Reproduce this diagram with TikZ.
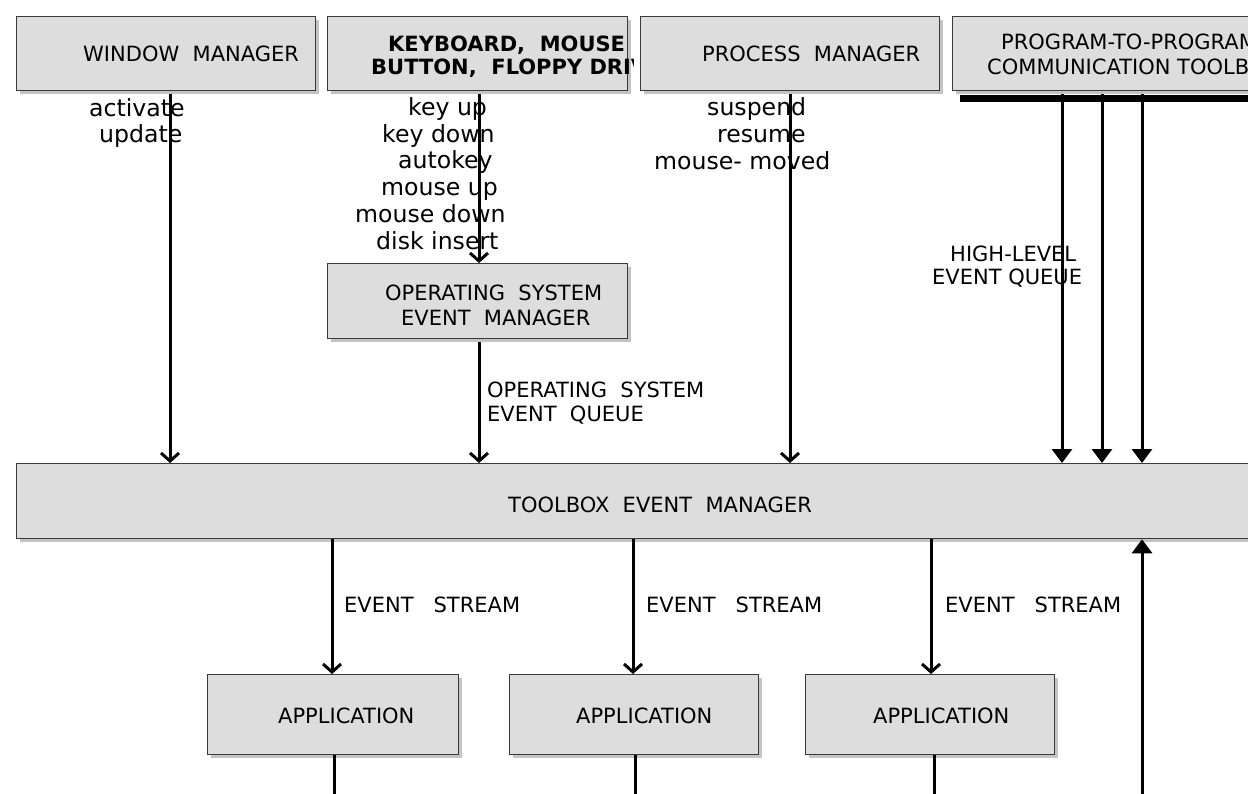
\documentclass[tikz,border=0pt]{standalone}
\usepackage{fontspec}
\setmainfont{DejaVu Sans}
\usetikzlibrary{arrows.meta,shadows}
\definecolor{boxfill}{HTML}{DDDDDD}
\definecolor{boxline}{HTML}{3A3A3A}
\definecolor{shadowgray}{HTML}{C4C4C4}
\tikzset{
  box/.style={draw=boxline, line width=1.3pt, fill=boxfill, rectangle, anchor=north west,
    inner sep=0pt, drop shadow={shadow xshift=3pt, shadow yshift=-3pt, fill=shadowgray, opacity=1}},
  lbl/.style={anchor=base west, inner sep=0pt, font=\fontsize{21}{25}\selectfont},
  blbl/.style={lbl, font=\fontsize{21}{25}\selectfont\bfseries},
  slbl/.style={lbl, font=\fontsize{23.6}{27}\selectfont},
  flow/.style={line width=3pt, -{Straight Barb[length=8pt,width=18pt]}},
  hflow/.style={line width=3pt, -{Triangle[length=14pt,width=20pt]}},
  plain/.style={line width=3pt},
}
\begin{document}
\begin{tikzpicture}[x=1pt,y=-1pt]
\useasboundingbox (0,0) rectangle (1248,794);
\clip (0,0) rectangle (1248,794);

% boxes
\node[box, minimum width=299pt, minimum height=74pt] (wm) at (16,16) {};
\node[box, minimum width=300pt, minimum height=74pt] (kb) at (327,16) {};
\node[box, minimum width=299pt, minimum height=74pt] (pm) at (640,16) {};
\node[box, minimum width=340pt, minimum height=74pt] (ptp) at (952,16) {};
\node[box, minimum width=300pt, minimum height=75pt] (osem) at (327,263) {};
\node[box, minimum width=1290pt, minimum height=75pt] (tb) at (16,463) {};
\node[box, minimum width=251pt, minimum height=80pt] (app1) at (207,674) {};
\node[box, minimum width=249pt, minimum height=80pt] (app2) at (509,674) {};
\node[box, minimum width=249pt, minimum height=80pt] (app3) at (805,674) {};

% box texts
\node[lbl] (twm) at (83,62) {WINDOW\ \ MANAGER};
\begin{scope}
  \clip (320,0) rectangle (633,100);
  \node[blbl] (tkb1) at (388,52) {KEYBOARD,\ \ MOUSE};
  \node[blbl] (tkb2) at (371,75) {BUTTON,\ \ FLOPPY DRIVE};
\end{scope}
\node[lbl] (tpm) at (702,62) {PROCESS\ \ MANAGER};
\node[lbl] (tptp1) at (1001,50) {PROGRAM-TO-PROGRAM};
\node[lbl] (tptp2) at (987,75) {COMMUNICATION TOOLBOX};
\node[lbl] (tosem1) at (385,301) {OPERATING\ \ SYSTEM};
\node[lbl] (tosem2) at (401,326) {EVENT\ \ MANAGER};
\node[lbl] (ttb) at (508,512) {TOOLBOX\ \ EVENT\ \ MANAGER};
\node[lbl] (tapp1) at (278,723) {APPLICATION};
\node[lbl] (tapp2) at (576,723) {APPLICATION};
\node[lbl] (tapp3) at (873,723) {APPLICATION};

% connector labels
\node[slbl] (la1) at (89,117) {activate};
\node[slbl] (la2) at (99,143) {update};
\node[slbl] (lk1) at (408,116) {key up};
\node[slbl] (lk2) at (382,143) {key down};
\node[slbl] (lk3) at (398,169) {autokey};
\node[slbl] (lk4) at (381,196) {mouse up};
\node[slbl] (lk5) at (355,223) {mouse down};
\node[slbl] (lk6) at (376,250) {disk insert};
\node[slbl] (lp1) at (707,116) {suspend};
\node[slbl] (lp2) at (717,143) {resume};
\node[slbl] (lp3) at (654,170) {mouse- moved};
\node[lbl] (lq1) at (487,397) {OPERATING\ \ SYSTEM};
\node[lbl] (lq2) at (487,421) {EVENT\ \ QUEUE};
\node[lbl] (lh1) at (950,262) {HIGH-LEVEL};
\node[lbl] (lh2) at (932,285) {EVENT QUEUE};
\node[lbl] (ls1) at (344,612) {EVENT\ \ \ STREAM};
\node[lbl] (ls2) at (646,612) {EVENT\ \ \ STREAM};
\node[lbl] (ls3) at (945,612) {EVENT\ \ \ STREAM};

% column coordinates
\coordinate (cw) at (170,0);
\coordinate (ck) at (479,0);
\coordinate (cp) at (790,0);
\coordinate (h1) at (1062,0);
\coordinate (h2) at (1102,0);
\coordinate (h3) at (1142,0);
\coordinate (e1) at (332,0);
\coordinate (e2) at (633,0);
\coordinate (e3) at (931,0);
\coordinate (d1) at (334,0);
\coordinate (d2) at (635,0);
\coordinate (d3) at (934,0);
\coordinate (bottom) at (0,794);

% high-level queue bar
\coordinate (barL) at ([xshift=8pt,yshift=-7pt]ptp.south west);
\coordinate (barR) at ([yshift=-7pt]ptp.south east);
\draw[line width=7pt] (barL) -- (barR);

% connectors
\draw[flow] ([yshift=-3pt]wm.south -| cw) -- (tb.north -| cw);
\draw[flow] ([yshift=-3pt]kb.south -| ck) -- (osem.north -| ck);
\draw[flow] ([yshift=-3pt]osem.south -| ck) -- (tb.north -| ck);
\draw[flow] ([yshift=-3pt]pm.south -| cp) -- (tb.north -| cp);
\draw[hflow] ([yshift=-3pt]ptp.south -| h1) -- (tb.north -| h1);
\draw[hflow] ([yshift=-3pt]ptp.south -| h2) -- (tb.north -| h2);
\draw[hflow] ([yshift=-3pt]ptp.south -| h3) -- (tb.north -| h3);
\draw[flow] (tb.south -| e1) -- (app1.north -| e1);
\draw[flow] (tb.south -| e2) -- (app2.north -| e2);
\draw[flow] (tb.south -| e3) -- (app3.north -| e3);
\draw[hflow] (bottom -| h3) -- (tb.south -| h3);
\draw[plain] (app1.south -| d1) -- (bottom -| d1);
\draw[plain] (app2.south -| d2) -- (bottom -| d2);
\draw[plain] (app3.south -| d3) -- (bottom -| d3);
\end{tikzpicture}
\end{document}
